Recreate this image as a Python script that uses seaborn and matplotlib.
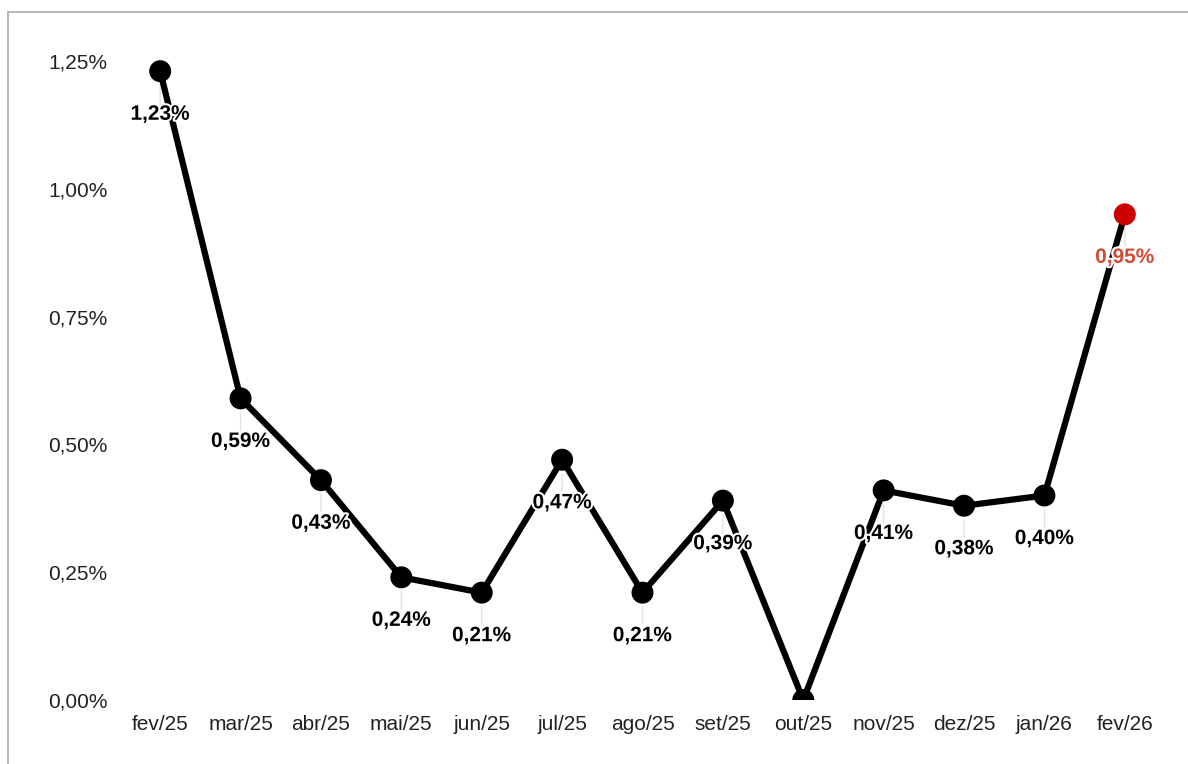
import matplotlib
matplotlib.use("Agg")
import matplotlib.pyplot as plt
import matplotlib.patheffects as pe
from matplotlib.lines import Line2D
import seaborn as sns
import pandas as pd

months = ["fev/25", "mar/25", "abr/25", "mai/25", "jun/25", "jul/25", "ago/25",
          "set/25", "out/25", "nov/25", "dez/25", "jan/26", "fev/26"]
values = [1.23, 0.59, 0.43, 0.24, 0.21, 0.47, 0.21, 0.39, 0.00, 0.41, 0.38, 0.40, 0.95]
yticks = [0.0, 0.25, 0.5, 0.75, 1.0, 1.25]

sns.set_theme(style="white")
plt.rcParams['font.family'] = ['Liberation Sans', 'DejaVu Sans']

df = pd.DataFrame({"mes": months, "valor": values, "pos": range(len(months))})
point_colors = ["#000000"] * (len(months) - 1) + ["#cc0000"]
label_colors = ["#000000"] * (len(months) - 1) + ["#d24b32"]

fig = plt.figure(figsize=(11.88, 7.64), dpi=100)
ax = fig.add_axes([120 / 1188, 64 / 764, 1045 / 1188, 664.6 / 764])

sns.lineplot(data=df, x="pos", y="valor", color="black", linewidth=4.5, ax=ax, zorder=2)
sns.scatterplot(data=df, x="pos", y="valor", hue="mes", palette=point_colors,
                s=250, edgecolor="none", legend=False, ax=ax, zorder=3)

for i, (v, c) in enumerate(zip(values, label_colors)):
    if v <= 0:
        continue
    txt = f"{v:.2f}".replace(".", ",") + "%"
    ax.annotate("", xy=(i, v), xytext=(0, -31), textcoords="offset points",
                arrowprops=dict(arrowstyle="-", color="#e3e3e3", lw=1,
                                shrinkA=8, shrinkB=10), zorder=1)
    ax.annotate(txt, xy=(i, v), xytext=(0, -31), textcoords="offset points",
                ha="center", va="center", fontsize=15, fontweight="bold", color=c,
                path_effects=[pe.withStroke(linewidth=3, foreground="white")], zorder=4)

ax.set_xlim(-0.5, 12.5)
ax.set_ylim(0, 1.3)
ax.set_xticks(range(len(months)))
ax.set_xticklabels(months)
ax.set_yticks(yticks)
ax.set_yticklabels([f"{t:.2f}".replace(".", ",") + "%" for t in yticks])
ax.tick_params(axis="both", length=0, labelsize=15, colors="#222222")
ax.tick_params(axis="y", pad=9)
ax.tick_params(axis="x", pad=11)
ax.set_xlabel("")
ax.set_ylabel("")
ax.grid(False)
for s in ax.spines.values():
    s.set_visible(False)

# outer frame (top and left edges visible)
fig.add_artist(Line2D([8 / 1188, 8 / 1188], [0, 1 - 12 / 764], transform=fig.transFigure,
                      color="#aaaaaa", lw=1.2))
fig.add_artist(Line2D([8 / 1188, 1], [1 - 12 / 764, 1 - 12 / 764], transform=fig.transFigure,
                      color="#aaaaaa", lw=1.2))

fig.savefig("out.png", dpi=100)
